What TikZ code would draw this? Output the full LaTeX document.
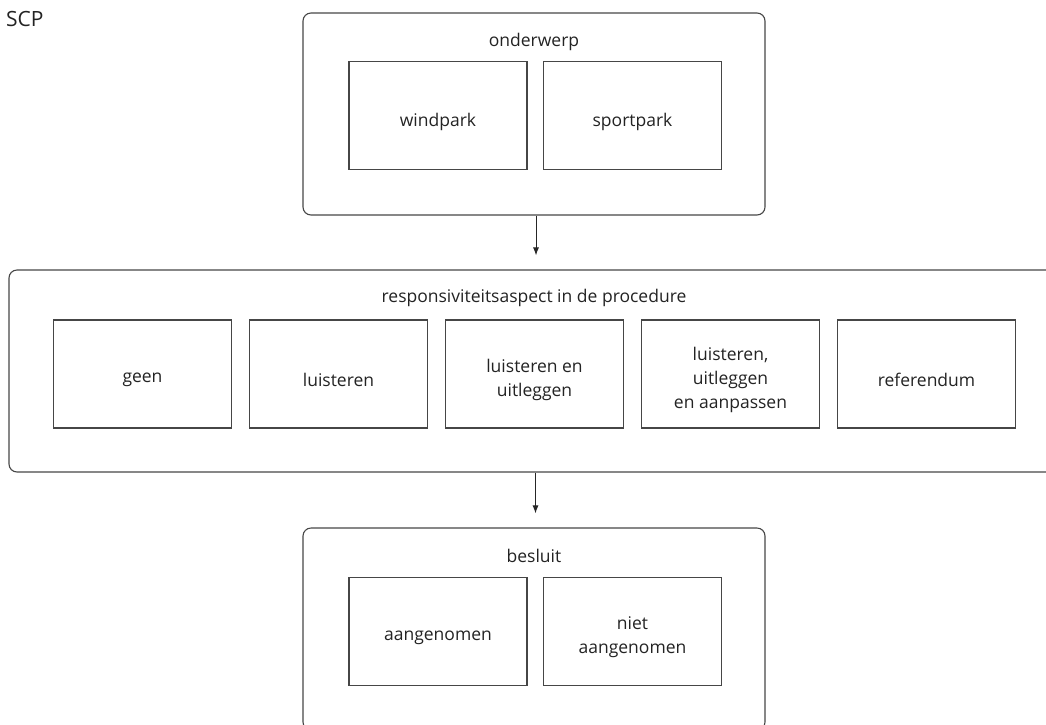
\documentclass[tikz,border=0pt]{standalone}
\usepackage{fontspec}
\setmainfont{Open Sans}
\definecolor{linegray}{RGB}{70,70,70}
\definecolor{textgray}{RGB}{35,35,35}
\usetikzlibrary{positioning, arrows.meta}

\begin{document}
\begin{tikzpicture}[x=1pt, y=-1pt,
    groupbox/.style={rectangle, draw=linegray, rounded corners=8pt, line width=1.1pt, minimum height=202pt, inner sep=0pt},
    itembox/.style={rectangle, draw=linegray, line width=1.1pt, minimum width=178pt, minimum height=108pt, inner sep=0pt},
    itemtext/.style={align=center, inner sep=0pt, yshift=-6pt, text=textgray, font=\fontsize{17.5}{24}\selectfont},
    grouptitle/.style={text=textgray, inner sep=0pt, font=\fontsize{17.5}{24}\selectfont},
    flow/.style={draw=black!85, line width=1pt, -{Latex[length=8pt, width=6pt]}, shorten >=14pt}]
    \useasboundingbox (0,0) rectangle (1046,724);
    \clip (0,0) rectangle (1046,724);

    % Logo text
    \node[grouptitle, anchor=west, font=\fontsize{21}{25}\selectfont] (logo) at (6,19) {SCP};

    % Onderwerp
    \node[groupbox, minimum width=462pt] (onderwerp) at (534,114) {};
    \node[grouptitle] (onderwerptitle) at (534,42) {onderwerp};
    \node[itembox, label={[itemtext]center:windpark}] (windpark) at (438,115.5) {};
    \node[itembox, label={[itemtext]center:sportpark}] (sportpark) at (632.5,115.5) {};

    % Procedure
    \node[groupbox, minimum width=1049pt] (procedure) at (533.5,371) {};
    \node[grouptitle] (proceduretitle) at (534,298) {responsiviteitsaspect in de procedure};
    \node[itembox, label={[itemtext]center:geen}] (geen) at (142.5,374) {};
    \node[itembox, label={[itemtext]center:luisteren}] (luisteren) at (338.5,374) {};
    \node[itembox, label={[itemtext]center:{luisteren en\\uitleggen}}] (uitleggen) at (534.5,374) {};
    \node[itembox, label={[itemtext]center:{luisteren,\\uitleggen\\en aanpassen}}] (aanpassen) at (730.5,374) {};
    \node[itembox, label={[itemtext]center:referendum}] (referendum) at (926.5,374) {};

    % Besluit
    \node[groupbox, minimum width=462pt] (besluit) at (534,629) {};
    \node[grouptitle] (besluittitle) at (534,556) {besluit};
    \node[itembox, label={[itemtext]center:aangenomen}] (aangenomen) at (438,631.5) {};
    \node[itembox, label={[itemtext]center:{niet\\aangenomen}}] (nietaangenomen) at (632.5,631.5) {};

    % Pijlen
    \draw[flow] ([xshift=2pt]onderwerp.south) -- ([xshift=2pt]onderwerp.south |- procedure.north);
    \draw[flow] ([xshift=2pt]procedure.south) -- ([xshift=2pt]procedure.south |- besluit.north);
\end{tikzpicture}
\end{document}
